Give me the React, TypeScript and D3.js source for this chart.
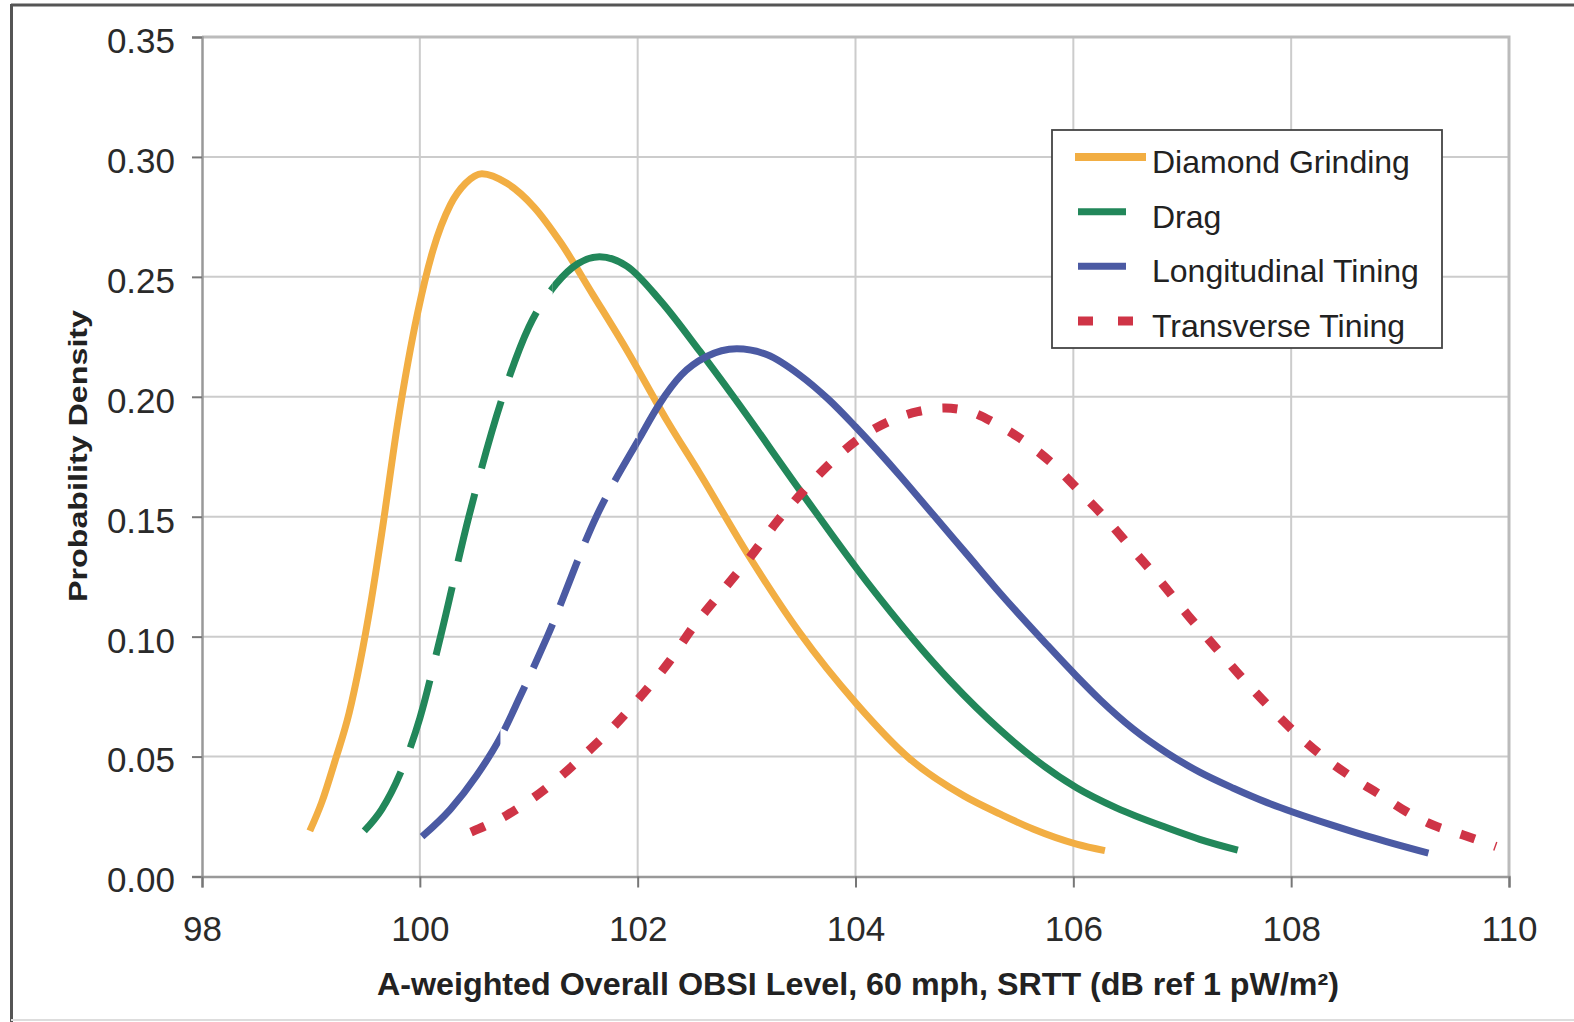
import React, { useEffect, useRef } from "react";
import * as d3 from "d3";

const xTicks = [98, 100, 102, 104, 106, 108, 110];
const yTicks = [0, 0.05, 0.1, 0.15, 0.2, 0.25, 0.3, 0.35];
const seriesNames = ["Diamond Grinding", "Drag", "Longitudinal Tining", "Transverse Tining"];

// [dB, density]
const diamondGrinding: [number, number][] = [
  [98.99, 0.019], [99.1, 0.031], [99.22, 0.048], [99.35, 0.068], [99.45, 0.089], [99.55, 0.114],
  [99.65, 0.143], [99.8, 0.19], [99.98, 0.235], [100.12, 0.261], [100.28, 0.28], [100.42, 0.289],
  [100.57, 0.293], [100.8, 0.289], [101.05, 0.279], [101.29, 0.2645], [101.59, 0.2425], [101.9, 0.2195],
  [102.27, 0.19], [102.57, 0.168], [103.03, 0.133], [103.49, 0.1015], [104.0, 0.0725], [104.5, 0.049],
  [105.0, 0.0335], [105.33, 0.026], [105.63, 0.0198], [106.03, 0.0135], [106.29, 0.0108],
];
const drag: [number, number][] = [
  [99.49, 0.019], [99.65, 0.028], [99.82, 0.043], [100.0, 0.066], [100.19, 0.1], [100.45, 0.15],
  [100.76, 0.2], [101.0, 0.229], [101.25, 0.247], [101.45, 0.2555], [101.65, 0.2584], [101.9, 0.2545],
  [102.21, 0.24], [102.57, 0.219], [102.88, 0.2], [103.49, 0.161], [104.11, 0.1225], [104.87, 0.0815],
  [105.33, 0.061], [105.63, 0.0495], [106.03, 0.037], [106.4, 0.0285], [106.86, 0.0203], [107.16, 0.0155],
  [107.51, 0.011],
];
const longitudinalTining: [number, number][] = [
  [100.02, 0.0166], [100.28, 0.028], [100.52, 0.042], [100.74, 0.058], [100.92, 0.075], [101.17, 0.1],
  [101.62, 0.15], [102.02, 0.183], [102.2, 0.197], [102.4, 0.209], [102.63, 0.2167], [102.91, 0.22],
  [103.19, 0.2175], [103.49, 0.209], [103.75, 0.199], [104.0, 0.1875], [104.41, 0.167], [104.71, 0.151],
  [105.02, 0.1345], [105.33, 0.118], [105.75, 0.097], [106.03, 0.0835], [106.25, 0.0735], [106.55, 0.0615],
  [106.86, 0.0515], [107.16, 0.0435], [107.47, 0.0368], [107.78, 0.0308], [108.02, 0.0268],
  [108.39, 0.0212], [108.7, 0.0168], [109.26, 0.0097],
];
const transverseTining: [number, number][] = [
  [100.47, 0.0185], [100.8, 0.0256], [101.04, 0.0327], [101.29, 0.0416], [101.53, 0.0515], [101.79, 0.063],
  [102.04, 0.0757], [102.28, 0.089], [102.51, 0.104], [102.77, 0.1186], [103.03, 0.133], [103.28, 0.148],
  [103.55, 0.162], [103.8, 0.1737], [104.04, 0.1828], [104.32, 0.19], [104.57, 0.1938], [104.82, 0.1953],
  [105.07, 0.1935], [105.28, 0.189], [105.57, 0.1808], [105.82, 0.1716], [106.05, 0.161], [106.31, 0.1486],
  [106.55, 0.136], [106.8, 0.123], [107.05, 0.109], [107.3, 0.0958], [107.55, 0.0828], [107.81, 0.0702],
  [108.06, 0.059], [108.31, 0.0494], [108.57, 0.041], [108.82, 0.034], [109.06, 0.027], [109.3, 0.0215],
  [109.58, 0.0173], [109.88, 0.0125],
];

// dashed stretch of each curve (in dB), null = solid all along
const dashedStretch: ([number, number] | null)[] = [null, [99, 101.22], [100.74, 102.0], [99, 111]];

const W = 1574;
const H = 1022;
const FONT = "'Liberation Sans', Arial, sans-serif";

const App = () => {
  const ref = useRef<SVGSVGElement>(null);

  useEffect(() => {
    const svg = d3.select(ref.current);
    svg.selectAll("*").remove();

    const x = d3.scaleLinear().domain([98, 110]).range([202, 1509]);
    const y = d3.scaleLinear().domain([0, 0.35]).range([876.5, 37]);

    svg.append("rect").attr("width", W).attr("height", H).attr("fill", "#fff");

    // outer frame
    svg.append("line").attr("x1", 11).attr("x2", W).attr("y1", 5).attr("y2", 5)
      .attr("stroke", "#555").attr("stroke-width", 3);
    svg.append("line").attr("x1", 11.5).attr("x2", 11.5).attr("y1", 4).attr("y2", H)
      .attr("stroke", "#555").attr("stroke-width", 3);
    svg.append("line").attr("x1", 11).attr("x2", W).attr("y1", 1020).attr("y2", 1020)
      .attr("stroke", "#ddd").attr("stroke-width", 2);

    // grid
    const grid = svg.append("g");
    grid.selectAll("line.v").data(xTicks.slice(1, -1)).enter().append("line")
      .attr("x1", (d) => x(d)).attr("x2", (d) => x(d))
      .attr("y1", y(0.35)).attr("y2", y(0))
      .attr("stroke", "#cccccc").attr("stroke-width", 2);
    grid.selectAll("line.h").data(yTicks.slice(1, -1)).enter().append("line")
      .attr("x1", x(98)).attr("x2", x(110))
      .attr("y1", (d) => y(d)).attr("y2", (d) => y(d))
      .attr("stroke", "#cccccc").attr("stroke-width", 2);

    // plot border top / right
    svg.append("path")
      .attr("d", `M${x(98)},${y(0.35)}H${x(110)}V${y(0)}`)
      .attr("fill", "none").attr("stroke", "#bbbbbb").attr("stroke-width", 3);

    // axes
    const yAxis = svg.append("g").attr("transform", `translate(${x(98)},0)`)
      .call(d3.axisLeft(y).tickValues(yTicks).tickSize(10).tickPadding(17).tickFormat(d3.format(".2f")));
    const xAxis = svg.append("g").attr("transform", `translate(0,${y(0)})`)
      .call(d3.axisBottom(x).tickValues(xTicks).tickSize(11).tickPadding(14).tickFormat(d3.format("d")));
    [xAxis, yAxis].forEach((a) => {
      a.select(".domain").attr("stroke", "#999").attr("stroke-width", 2.5);
      a.selectAll(".tick line").attr("stroke", "#777").attr("stroke-width", 2);
      a.selectAll(".tick text").attr("fill", "#2a2a2a").attr("font-size", 35).attr("font-family", FONT);
    });
    yAxis.selectAll(".tick text").attr("dy", "0.44em");
    xAxis.selectAll(".tick text").attr("dy", "1.14em");

    // curves
    const line = d3.line<[number, number]>()
      .x((d) => x(d[0])).y((d) => y(d[1]))
      .curve(d3.curveMonotoneX);
    const data = [diamondGrinding, drag, longitudinalTining, transverseTining];
    const colors = ["#f2ae43", "#22875a", "#4b5aa3", "#cf3446"];
    const widths = [7, 7, 7, 9];
    const dashes = [null, "70 26", "48 20", "15 21"];
    const defs = svg.append("defs");

    data.forEach((pts, i) => {
      const stretch = dashedStretch[i];
      const d = line(pts);
      if (!stretch) {
        svg.append("path").attr("d", d).attr("fill", "none")
          .attr("stroke", colors[i]).attr("stroke-width", widths[i]);
        return;
      }
      const a = x(stretch[0]);
      const b = x(stretch[1]);
      const dashClip = defs.append("clipPath").attr("id", `dash${i}`);
      dashClip.append("rect").attr("x", a).attr("y", 0).attr("width", b - a).attr("height", H);
      const solidClip = defs.append("clipPath").attr("id", `solid${i}`);
      solidClip.append("rect").attr("x", 0).attr("y", 0).attr("width", a).attr("height", H);
      solidClip.append("rect").attr("x", b).attr("y", 0).attr("width", W - b).attr("height", H);

      svg.append("path").attr("d", d).attr("fill", "none").attr("clip-path", `url(#solid${i})`)
        .attr("stroke", colors[i]).attr("stroke-width", widths[i]);
      svg.append("path").attr("d", d).attr("fill", "none").attr("clip-path", `url(#dash${i})`)
        .attr("stroke", colors[i]).attr("stroke-width", widths[i])
        .attr("stroke-dasharray", dashes[i]);
    });

    // legend
    const lg = svg.append("g");
    lg.append("rect").attr("x", 1052).attr("y", 130).attr("width", 390).attr("height", 218)
      .attr("fill", "#fff").attr("stroke", "#444").attr("stroke-width", 1.8);
    const rowY = d3.scalePoint<number>().domain([0, 1, 2, 3]).range([157, 321]);
    const sample = [[1075, 1146], [1078, 1126], [1078, 1126], [1078, 1133]];
    seriesNames.forEach((name, i) => {
      const ly = rowY(i) as number;
      lg.append("line").attr("x1", sample[i][0]).attr("x2", sample[i][1]).attr("y1", ly).attr("y2", ly)
        .attr("stroke", colors[i]).attr("stroke-width", i === 0 ? 8 : i === 3 ? 9 : 7)
        .attr("stroke-dasharray", i === 3 ? "15 25" : null);
      lg.append("text").attr("x", 1152).attr("y", ly + 16).text(name)
        .attr("font-family", FONT).attr("font-size", 32).attr("fill", "#222");
    });

    // axis titles
    svg.append("text").attr("x", 858).attr("y", 995).attr("text-anchor", "middle")
      .attr("font-family", FONT).attr("font-size", 31).attr("font-weight", "bold").attr("fill", "#222")
      .attr("textLength", 962).attr("lengthAdjust", "spacingAndGlyphs")
      .text("A-weighted Overall OBSI Level, 60 mph, SRTT (dB ref 1 pW/m²)");
    svg.append("text").attr("transform", "translate(87,456) rotate(-90)").attr("text-anchor", "middle")
      .attr("font-family", FONT).attr("font-size", 26).attr("font-weight", "bold").attr("fill", "#222")
      .attr("textLength", 292).attr("lengthAdjust", "spacingAndGlyphs")
      .text("Probability Density");
  }, []);

  return (
    <svg
      ref={ref}
      width={W}
      height={H}
      style={{ position: "absolute", left: 0, top: 0, display: "block" }}
    />
  );
};

export default App;
